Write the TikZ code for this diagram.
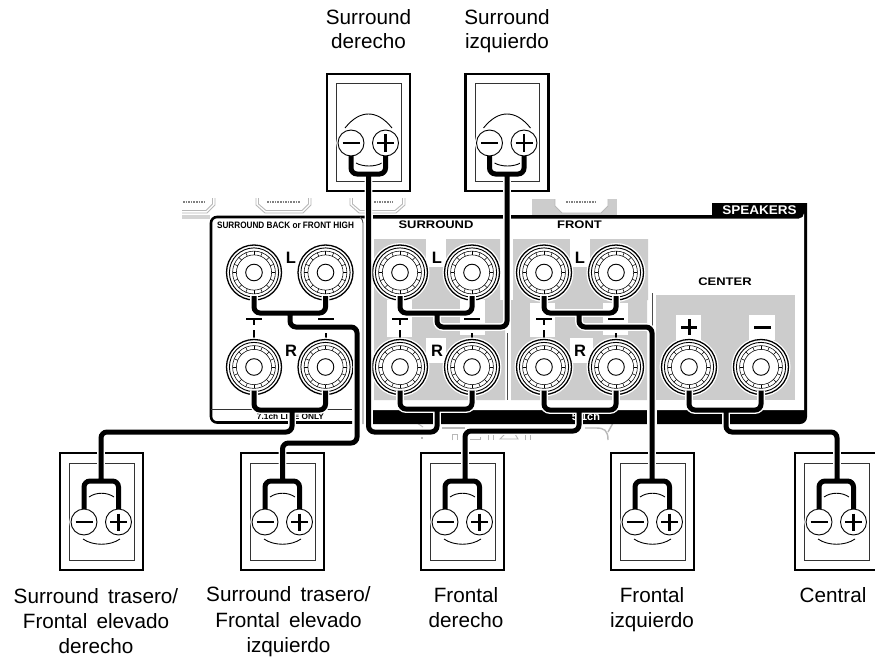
\documentclass[tikz,border=0pt]{standalone}
\usepackage{fontspec}
\setmainfont{Liberation Sans}
\newfontfamily\capfont[WordSpace=1.6]{Liberation Sans}
\definecolor{panelgray}{gray}{0.80}
\definecolor{ghost}{gray}{0.72}
\tikzset{
  x=1pt,y=-1pt,
  halo/.style={draw=white,line width=7.8pt,rounded corners=6pt},
  wire/.style={draw=black,line width=5pt,rounded corners=6pt},
  post/.style={circle,draw=black,fill=white,line width=1.3pt,minimum size=55pt,inner sep=0pt,outer sep=0pt,preaction={draw=white,line width=4pt}},
  sterm/.style={circle,draw=black,fill=white,line width=.9pt,minimum size=26pt,inner sep=0pt,outer sep=0pt,preaction={draw=white,line width=3.5pt}},
  outerbox/.style={draw=black,line width=2.6pt},
  innerbox/.style={draw=black!80,line width=1pt},
  thinarc/.style={draw=black,line width=.9pt},
  sign/.style={draw=black,line width=2.6pt},
  caption/.style={font=\capfont\fontsize{20.7}{24}\selectfont,anchor=base,inner sep=0pt},
  wide/.style={font=\fontsize{11}{12}\bfseries\selectfont,xscale=1.18,transform shape,inner sep=0pt},
  letter/.style={font=\fontsize{16.5}{18}\bfseries\selectfont,inner sep=0pt},
  ghostline/.style={draw=ghost,line width=.9pt},
  patch/.style={fill=white,draw=none},
}
\newcommand{\bindpost}[2]{%
  \draw[line width=.9pt] (#1.center) circle[radius=24.6];
  \foreach \r in {21.4,17.6}{\draw[line width=.55pt] (#1.center) circle[radius=\r];}
  \draw[line width=.9pt] (#1.center) circle[radius=8.3];
  \foreach \a in {0,22.5,...,337.5}{\draw[line width=.55pt] ($(#1.center)+(\a:17.6)$) -- ($(#1.center)+(\a:21.4)$);}
}
\newcommand{\postpair}[5]{% name1 name2 x1 x2 y
  \node[post] (#1) at (#3,#5) {}; \bindpost{#1}{}
  \node[post] (#2) at (#4,#5) {}; \bindpost{#2}{}
}
\newcommand{\speakerbody}[3]{% name, left x, top y of box
  \draw[outerbox] (#2,#3) rectangle ++(83,117);
  \draw[innerbox] (#2+9.5,#3+10) rectangle ++(64.5,97);
  \node[sterm] (#1m) at (#2+24,#3+69) {};
  \node[sterm] (#1p) at (#2+58.5,#3+69) {};
  \draw[sign] (#1m.center) ++(-8.5,0) -- ++(17,0);
  \draw[sign] (#1p.center) ++(-8.5,0) -- ++(17,0);
  \draw[sign] (#1p.center) ++(0,-8.5) -- ++(0,17);
}
\newcommand{\cable}[1]{\draw[halo] #1; \draw[wire] #1;}
\usetikzlibrary{calc}
\begin{document}
\begin{tikzpicture}
\useasboundingbox (0,0) rectangle (875,658);
\fill[white] (0,0) rectangle (875,658);

% ghost outlines of the hidden rear panel
\fill[ghost!60] (182,215) rectangle (210,219);
\fill[panelgray] (532,199) rectangle (617,215);
\fill[white] (555,199) -- (555,206) -- (562,213) -- (601,213) -- (608,206) -- (608,199) -- cycle;
\draw[ghostline] (555,199) -- (555,206) -- (562,213) -- (601,213) -- (608,206) -- (608,199);
\draw[ghostline] (182,213) -- (207,213) -- (215,205) -- (215,198);
\draw[ghostline] (182,210.5) -- (206,210.5) -- (212.5,204) -- (212.5,198);
\draw[ghostline] (256,198) -- (256,205) -- (265,213) -- (303,213) -- (311,205) -- (311,198);
\draw[ghostline] (258.5,198) -- (258.5,204) -- (266,210.5) -- (302,210.5) -- (308.5,204) -- (308.5,198);
\draw[ghostline] (350,198) -- (350,205) -- (359,213) -- (396,213) -- (405,205) -- (405,198);
\draw[ghostline] (352.5,198) -- (352.5,204) -- (360,210.5) -- (395,210.5) -- (402.5,204) -- (402.5,198);
\foreach \a/\b in {183/205,267/300,374/393,566/597}{\draw[draw=gray,line width=1.6pt,densely dotted] (\a,202) -- (\b,202);}
\draw[ghostline] (417,423) -- (423,427);
\draw[ghostline,line width=1.4pt] (442,428) -- (465,428);
\draw[ghostline,line width=1.4pt] (585,428) -- (596,428) .. controls (604,428) and (608,430) .. (608,440);
\draw[ghostline,line width=1.4pt] (613,423) -- (608,432);
\fill[ghost] (421,437) rectangle (423,439);
\draw[ghostline] (452,440) -- (452,434) -- (457,434) -- (457,440);
\draw[ghostline] (470,439) -- (480,439) -- (480,437);
\draw[ghostline] (488,440) -- (488,434) -- (493,434) -- (493,440);
\draw[ghostline] (500,439) -- (505,434) -- (515,434) -- (518,439) -- cycle;
\draw[ghostline] (525,440) -- (525,434) -- (530,434) -- (530,440);

% speakers
\speakerbody{sa}{327}{74}
\speakerbody{sb}{465.5}{74}
\speakerbody{sc}{60}{453}
\speakerbody{sd}{241}{453}
\speakerbody{se}{421}{453}
\speakerbody{sf}{611}{453}
\speakerbody{sg}{795}{453}
\foreach \x in {327,465.5}{
  \draw[thinarc] (\x+18,128) .. controls (\x+26,118) and (\x+34,114) .. (\x+41.5,114) .. controls (\x+49,114) and (\x+57,118) .. (\x+65,128);
  \draw[thinarc] (\x+29,163) .. controls (\x+36,167) and (\x+48,167) .. (\x+55,163);
}
\foreach \x in {60,241,421,611,795}{
  \draw[thinarc] (\x+29,497) .. controls (\x+36,492) and (\x+47,492) .. (\x+54,497);
  \draw[thinarc] (\x+23,539) .. controls (\x+33,546) and (\x+50,546) .. (\x+60,539);
}

% receiver panel
\fill[black] (712,203) -- (807,203) -- (807,417) arc[start angle=0,end angle=90,radius=7] -- (373,424) -- (373,215) -- (712,215) -- cycle;
\fill[white] (373,218.5) -- (799,218.5) arc[start angle=90,end angle=0,radius=5] -- (804,410) -- (373,410) -- cycle;
\fill[white] (647,409) rectangle (657,425);
\node[wide,text=white,font=\fontsize{12.6}{14}\bfseries\selectfont,xscale=.91] (speakers) at (759.5,210.5) {SPEAKERS};

% grey fields
\fill[panelgray] (374,239) rectangle (500,300) (374,300) rectangle (505,400);
\fill[patch] (426,239) rectangle (446,267);
\fill[patch] (387,300) rectangle (412,337);
\fill[patch] (460,300) rectangle (485,335);
\fill[patch] (426,338) rectangle (446,363);
\fill[panelgray] (513,239) rectangle (648,300) (511,300) rectangle (647,400);
\fill[patch] (570,239) rectangle (590,267);
\fill[patch] (530,303) rectangle (555,337);
\fill[patch] (603,303) rectangle (628,335);
\fill[patch] (570,338) rectangle (593,363);
\fill[panelgray] (656,295) rectangle (795,400);
\fill[patch] (676,315) rectangle (701,340);
\fill[patch] (749,315) rectangle (775,340);
\draw[draw=black!70,line width=.8pt] (507.3,333) -- (507.3,400);
\draw[draw=black!70,line width=.8pt] (652.5,293) -- (652.5,326);

% panel titles
\node[wide] (tsur) at (436,224.5) {SURROUND};
\node[wide] (tfro) at (579.5,224.5) {FRONT};
\node[wide] (tcen) at (725,282) {CENTER};
\foreach \n/\x/\y/\t in {la/291/257.5/L,lb/291/351/R,lc/437/257.5/L,ld/437/351/R,le/580/257.5/L,lf/580/351/R}{
  \node[letter] (\n) at (\x,\y) {\t};
}
\node[inner sep=0pt,text=white,font=\fontsize{11}{12}\bfseries\selectfont] (tfive) at (586,417) {5.1ch};

% small polarity marks
\foreach \p in {254,400,544}{
  \pgfmathsetmacro{\q}{\p+72}
  \draw[line width=2pt] (\p-8,319) -- (\p+8,319);
  \draw[line width=2pt] (\p,319) -- (\p,325);
  \draw[line width=1.3pt] (\p,330) -- (\p,339);
  \draw[line width=2pt] (\q-8,319) -- (\q+8,319);
  \draw[line width=1.3pt] (\q,333) -- (\q,339);
}
\draw[sign,line width=3pt] (681,327) -- (697,327) (689,319) -- (689,335);
\draw[sign,line width=3pt] (754,327) -- (771,327);

% left sub-panel
\draw[black,line width=2.6pt,rounded corners=6pt] (352,422.5) -- (211,422.5) -- (211,217) -- (362,217) -- (370,217);
\draw[black!70,line width=.9pt,rounded corners=3pt] (360,217) -- (363,220) -- (363,424);
\draw[black!80,line width=.8pt] (211,409.5) -- (352,409.5);
\node[inner sep=0pt,font=\fontsize{9.3}{10}\bfseries\selectfont,xscale=.88,transform shape] (tback) at (285.5,225) {SURROUND BACK or FRONT HIGH};
\node[inner sep=0pt,font=\fontsize{8.3}{10}\bfseries\selectfont] (tline) at (290.5,416.8) {7.1ch LINE ONLY};

% binding posts
\postpair{p1}{p2}{254}{325.5}{272.5}
\postpair{p3}{p4}{254}{325.5}{367}
\postpair{p5}{p6}{400}{472}{272.5}
\postpair{p7}{p8}{400}{472}{367}
\postpair{p9}{p10}{544}{616}{272.5}
\postpair{p11}{p12}{544}{616}{367}
\postpair{p13}{p14}{689}{761}{367}

% cables
\coordinate (jsl) at (290,313);
\coordinate (jsr) at (292,410);
\coordinate (jul) at (437,313);
\coordinate (jur) at (437,409);
\coordinate (jfl) at (579,313);
\coordinate (jfr) at (579,410);
\coordinate (jc) at (726,410);
\coordinate (fa) at (368.5,175);
\coordinate (fb) at (507,175);
\coordinate (fc) at (101,481);
\coordinate (fd) at (282.5,481);
\coordinate (fe) at (465,481);
\coordinate (ff) at (652,481);
\coordinate (fg) at (837,481);
\newcommand{\topfork}[1]{(#1m.south) -- ($(#1m.south)+(0,18)$) -- ($(#1p.south)+(0,18)$) -- (#1p.south)}
\newcommand{\botfork}[1]{(#1m.north) -- ($(#1m.north)+(0,-28)$) -- ($(#1p.north)+(0,-28)$) -- (#1p.north)}
\newcommand{\upair}[3]{([yshift=4pt]#1.south) -- (#1.south |- #3) -- (#2.south |- #3) -- ([yshift=4pt]#2.south)}
\cable{\upair{p1}{p2}{jsl} (jsl) -- (290,327) -- (357,327) -- (357,443) -- (282.5,443) -- (fd) \botfork{sd}}
\cable{\upair{p3}{p4}{jsr} (jsr) -- (292,432) -- (101,432) -- (fc) \botfork{sc}}
\cable{\upair{p5}{p6}{jul} (jul) -- (437,327) -- (507,327) -- (fb) \topfork{sb}}
\cable{\upair{p7}{p8}{jur} (jur) -- (437,432) -- (368.5,432) -- (fa) \topfork{sa}}
\cable{\upair{p9}{p10}{jfl} (jfl) -- (579,327) -- (652,327) -- (ff) \botfork{sf}}
\cable{\upair{p11}{p12}{jfr} (jfr) -- (579,431) -- (465,431) -- (fe) \botfork{se}}
\cable{\upair{p13}{p14}{jc} (jc) -- (726,432) -- (837,432) -- (fg) \botfork{sg}}

% captions
\node[caption] (c1a) at (368.5,25) {Surround};
\node[caption] (c1b) at (368.5,49) {derecho};
\node[caption] (c2a) at (507,25) {Surround};
\node[caption] (c2b) at (507,49) {izquierdo};
\node[caption] (c3a) at (96,603) {Surround trasero/};
\node[caption] (c3b) at (96,628) {Frontal elevado};
\node[caption] (c3c) at (96,653) {derecho};
\node[caption] (c4a) at (288.5,601.5) {Surround trasero/};
\node[caption] (c4b) at (288.5,627) {Frontal elevado};
\node[caption] (c4c) at (288.5,652) {izquierdo};
\node[caption] (c5a) at (466,602) {Frontal};
\node[caption] (c5b) at (466,627) {derecho};
\node[caption] (c6a) at (652,602) {Frontal};
\node[caption] (c6b) at (652,627) {izquierdo};
\node[caption] (c7a) at (833,602) {Central};
\end{tikzpicture}
\end{document}
